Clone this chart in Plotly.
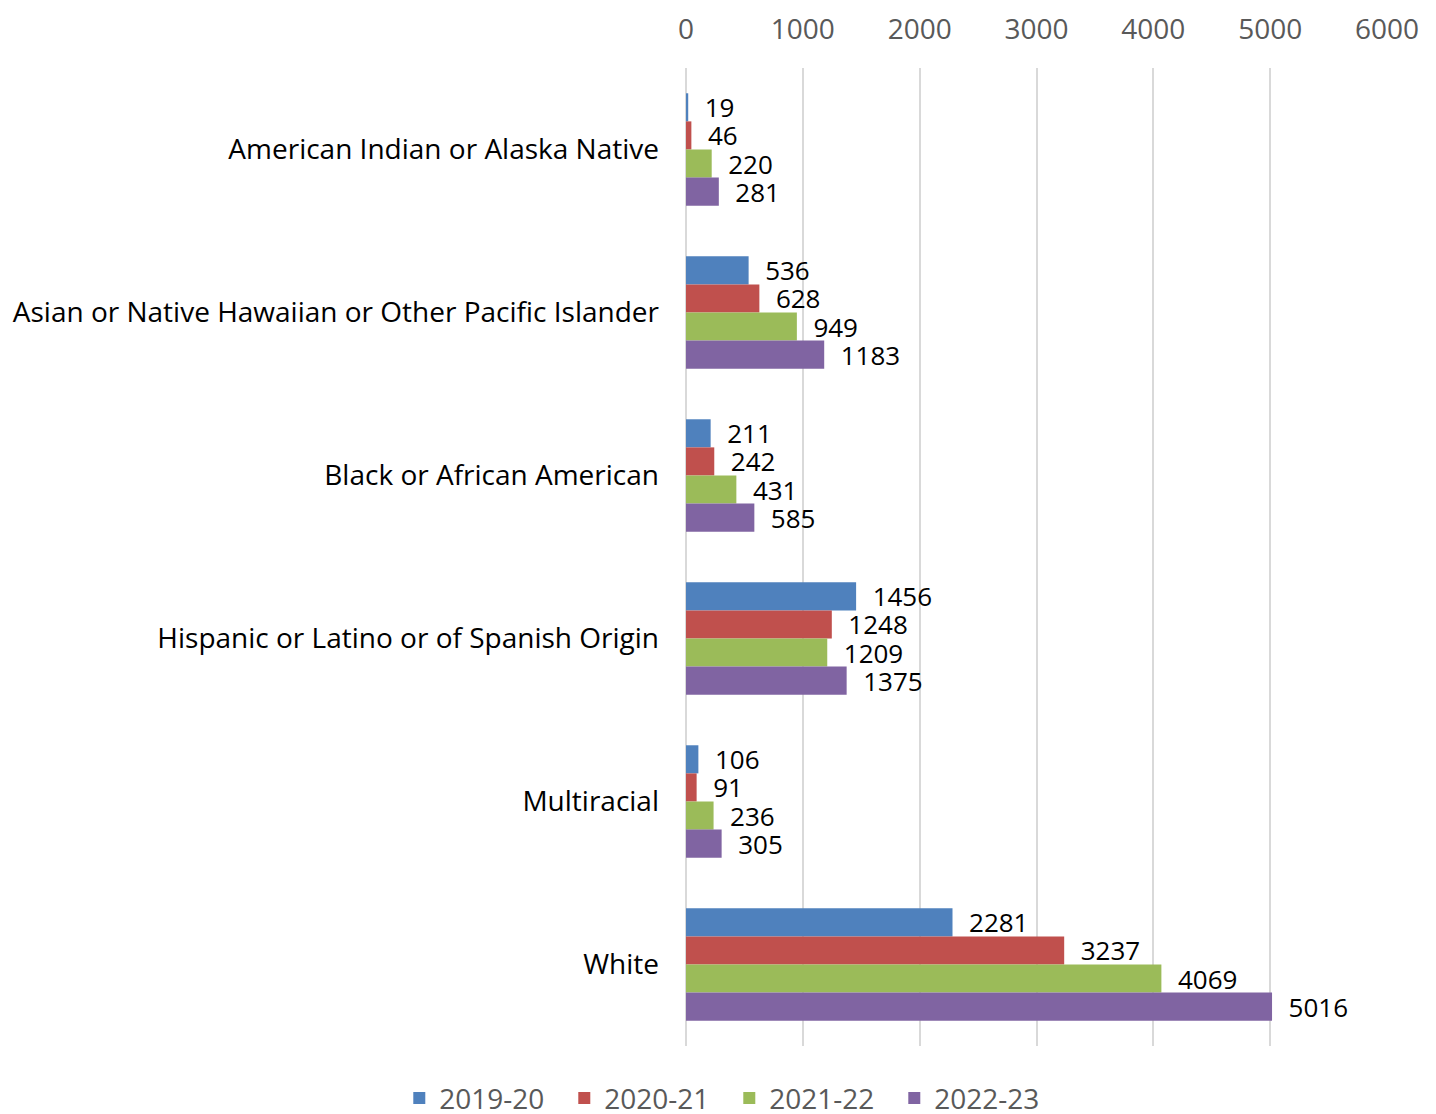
import plotly.graph_objects as go

categories = [
    "American Indian or Alaska Native",
    "Asian or Native Hawaiian or Other Pacific Islander",
    "Black or African American",
    "Hispanic or Latino or of Spanish Origin",
    "Multiracial",
    "White",
]
years = ["2019-20", "2020-21", "2021-22", "2022-23"]
v_2019_20 = [19, 536, 211, 1456, 106, 2281]
v_2020_21 = [46, 628, 242, 1248, 91, 3237]
v_2021_22 = [220, 949, 431, 1209, 236, 4069]
v_2022_23 = [281, 1183, 585, 1375, 305, 5016]
tick_vals = [0, 1000, 2000, 3000, 4000, 5000, 6000]

series = [v_2019_20, v_2020_21, v_2021_22, v_2022_23]
colors = ["#4F81BD", "#C0504D", "#9BBB59", "#8064A2"]
font_family = "Open Sans, sans-serif"

fig = go.Figure()
for name, vals, col in zip(years, series, colors):
    fig.add_trace(go.Bar(
        y=categories,
        x=vals,
        name=name,
        orientation="h",
        marker_color=col,
        marker_line_width=0,
        text=vals,
        texttemplate="\u00a0\u00a0%{x}",
        textposition="outside",
        constraintext="none",
        textfont=dict(color="black", size=26, family=font_family),
        cliponaxis=False,
    ))

# the page adds an 8px body margin, so the figure is shifted by 8px
fig.update_layout(
    barmode="group",
    bargap=0.31,
    bargroupgap=0,
    width=1436,
    height=1114,
    margin=dict(l=678, r=57, t=60, b=76, autoexpand=False),
    plot_bgcolor="white",
    paper_bgcolor="white",
    font=dict(family=font_family, size=28, color="#595959"),
    showlegend=True,
    legend=dict(
        orientation="h",
        x=-0.409, xanchor="left",
        y=-0.028, yanchor="top",
        font=dict(size=28, color="#595959"),
        itemwidth=30,
        entrywidth=120,
        traceorder="normal",
    ),
)
fig.update_xaxes(
    side="top",
    range=[0, 6000],
    tickvals=tick_vals,
    showgrid=True,
    gridcolor="#D9D9D9",
    gridwidth=2,
    zeroline=True,
    zerolinecolor="#D9D9D9",
    zerolinewidth=2,
    showline=False,
    ticks="",
    automargin=False,
    ticklabelstandoff=22,
    tickfont=dict(size=28, color="#595959"),
)
fig.update_yaxes(
    autorange="reversed",
    showgrid=False,
    zeroline=False,
    showline=False,
    ticks="",
    automargin=False,
    ticklabelstandoff=26,
    tickfont=dict(size=28, color="black"),
)

fig.write_html("out.html")
